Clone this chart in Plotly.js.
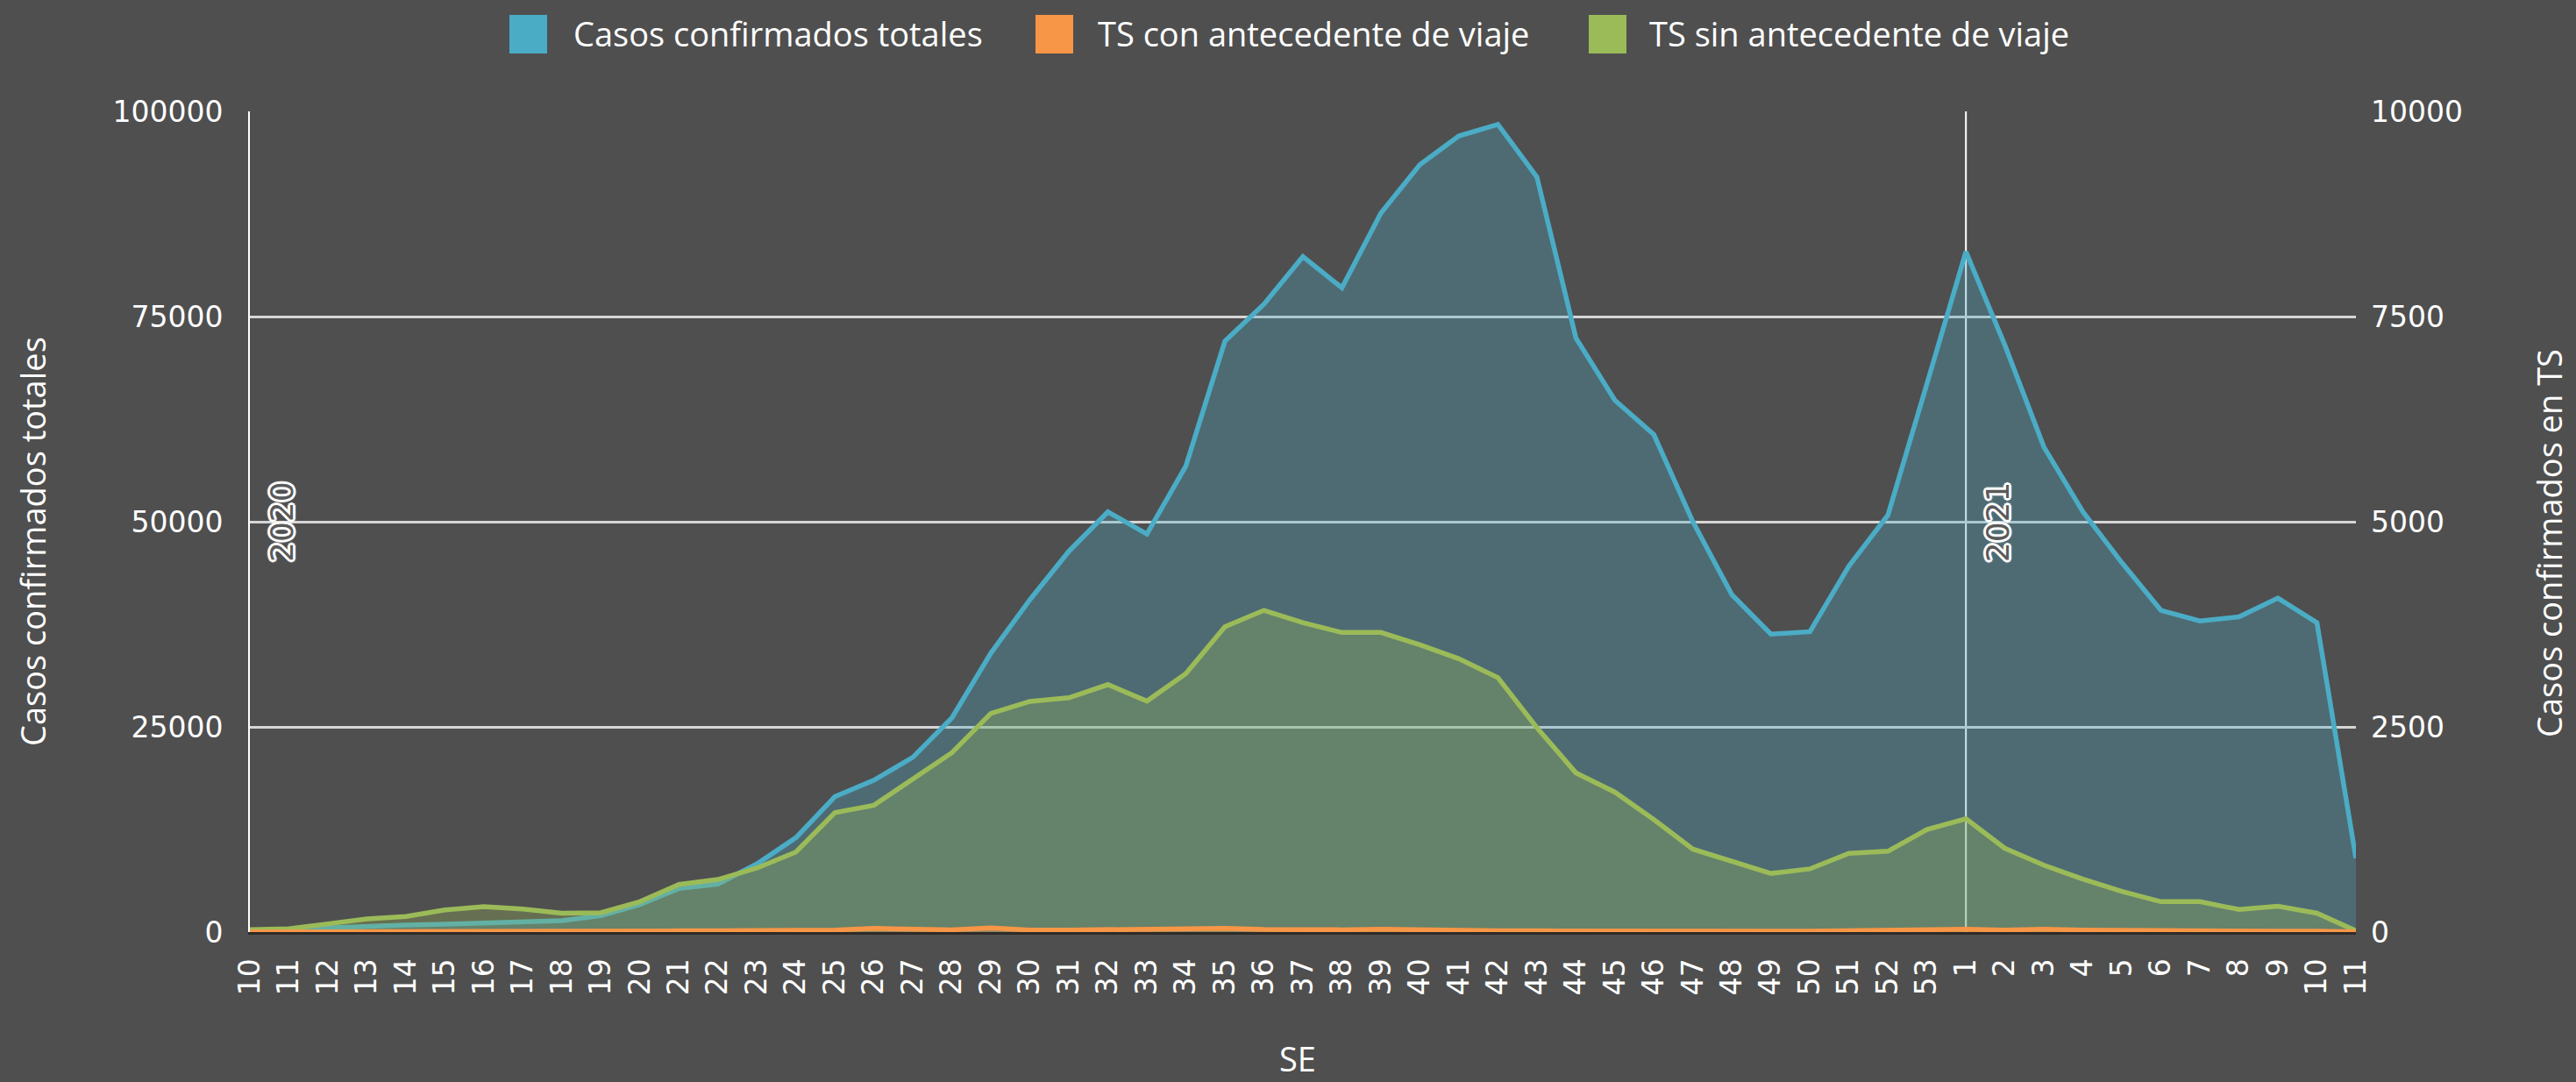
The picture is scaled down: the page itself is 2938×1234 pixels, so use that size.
<!DOCTYPE html>
<html>
<head>
<meta charset="utf-8">
<script src="https://cdn.plot.ly/plotly-3.0.1.min.js"></script>
<style>
  html, body { margin: 0; padding: 0; background: #4f4f4f; }
  #chart { width: 2938px; height: 1234px; }
</style>
</head>
<body>
<div id="chart"></div>
<script>
// ---- data ----
const weeks = ['10','11','12','13','14','15','16','17','18','19','20','21','22','23','24','25','26','27','28','29',
  '30','31','32','33','34','35','36','37','38','39','40','41','42','43','44','45','46','47','48','49','50','51','52','53',
  '1','2','3','4','5','6','7','8','9','10','11'];

const seriesNames = ['Casos confirmados totales', 'TS con antecedente de viaje', 'TS sin antecedente de viaje'];

// left axis
const totalCases = [100, 200, 500, 700, 850, 950, 1100, 1300, 1400, 2000, 3350, 5300, 5850, 8300, 11500, 16500, 18500, 21300, 26100, 34000,
  40500, 46400, 51200, 48500, 56800, 72000, 76500, 82300, 78500, 87600, 93500, 97000, 98400, 92000, 72400, 64800, 60600, 50000, 41100, 36300,
  36600, 44600, 50800, 66800, 82900, 71500, 59100, 51200, 45000, 39200, 37900, 38400, 40700, 37700, 9000];

// right axis
const tsWithTravel = [0, 2, 8, 12, 12, 10, 10, 10, 10, 10, 12, 15, 15, 18, 22, 25, 45, 30, 28, 50,
  25, 25, 28, 30, 38, 45, 32, 25, 28, 35, 25, 20, 15, 15, 12, 12, 12, 10, 10, 10,
  10, 15, 15, 30, 35, 25, 35, 25, 20, 15, 15, 12, 10, 10, 3];

const tsWithoutTravel = [30, 40, 100, 160, 190, 270, 310, 280, 230, 235, 370, 580, 640, 780, 975, 1455, 1545, 1865, 2185, 2665,
  2810, 2855, 3015, 2815, 3150, 3720, 3920, 3770, 3650, 3650, 3500, 3330, 3100, 2490, 1940, 1705, 1370, 1010, 870, 715,
  770, 960, 985, 1250, 1380, 1020, 815, 645, 495, 370, 370, 275, 315, 230, 15];

const leftTicks = [0, 25000, 50000, 75000, 100000];
const rightTicks = [0, 2500, 5000, 7500, 10000];
const yearLabels = ['2020', '2021'];
const xTitle = 'SE';
const yLeftTitle = 'Casos confirmados totales';
const yRightTitle = 'Casos confirmados en TS';

// ---- build ----
const xIdx = weeks.map((_, i) => i);
const yearStartIdx = [0, weeks.indexOf('1')];

const colors = ['#4bacc6', '#f79646', '#9bbb59'];
const fills = ['rgba(75,172,198,0.30)', 'rgba(247,150,70,0.30)', 'rgba(155,187,89,0.30)'];

const traceTotal = {
  type: 'scatter', mode: 'lines', name: seriesNames[0],
  x: xIdx, y: totalCases, yaxis: 'y',
  fill: 'tozeroy', fillcolor: fills[0],
  line: { color: colors[0], width: 5.5 }, showlegend: false
};
const traceWithout = {
  type: 'scatter', mode: 'lines', name: seriesNames[2],
  x: xIdx, y: tsWithoutTravel, yaxis: 'y2',
  fill: 'tozeroy', fillcolor: fills[2],
  line: { color: colors[2], width: 5.5 }, showlegend: false
};
const traceWith = {
  type: 'scatter', mode: 'lines', name: seriesNames[1],
  x: xIdx, y: tsWithTravel, yaxis: 'y2',
  fill: 'tozeroy', fillcolor: fills[1],
  line: { color: colors[1], width: 5.5 }, showlegend: false
};

const W = 2938, H = 1234;
const M = { l: 285, r: 251, t: 127, b: 171 };
const pw = W - M.l - M.r, ph = H - M.t - M.b;
const px = v => (v - M.l) / pw;          // pixel -> paper x
const py = v => (H - M.b - v) / ph;      // pixel -> paper y

const textFont = { family: 'Open Sans, sans-serif', size: 38, color: '#ffffff' };
const tickFont = { family: 'DejaVu Sans, sans-serif', size: 33, color: '#ffffff' };

// custom legend
const legendSwatchX = [581, 1181, 1812];
const legendTextX = [652, 1250, 1879];
const shapes = [];
const annotations = [];
seriesNames.forEach((name, i) => {
  shapes.push({
    type: 'rect', xref: 'paper', yref: 'paper',
    x0: px(legendSwatchX[i]), x1: px(legendSwatchX[i] + 43),
    y0: py(61), y1: py(17),
    fillcolor: colors[i], line: { width: 0 }
  });
  annotations.push({
    xref: 'paper', yref: 'paper', x: px(legendTextX[i]), y: py(38),
    xanchor: 'left', yanchor: 'middle', showarrow: false,
    text: name, font: textFont
  });
});

// year markers
yearStartIdx.forEach((idx, k) => {
  if (k > 0) {
    shapes.push({
      type: 'line', xref: 'x', yref: 'paper', x0: idx, x1: idx, y0: 0, y1: 1,
      line: { color: '#ffffff', width: 2 }, layer: 'below'
    });
  }
  annotations.push({
    xref: 'x', yref: 'y', x: idx, y: 50000, xshift: 36,
    textangle: -90, showarrow: false, xanchor: 'center', yanchor: 'middle',
    text: yearLabels[k],
    font: {
      family: 'DejaVu Sans, sans-serif', size: 36, color: '#5a5a5a',
      shadow: '2px 0 0 #fff, -2px 0 0 #fff, 0 2px 0 #fff, 0 -2px 0 #fff, 2px 2px 0 #fff, -2px -2px 0 #fff, 2px -2px 0 #fff, -2px 2px 0 #fff, 3px 0 1px #fff, -3px 0 1px #fff, 0 3px 1px #fff, 0 -3px 1px #fff'
    }
  });
});

// axis titles as annotations for exact placement
annotations.push({
  xref: 'paper', yref: 'paper', x: px(37), y: py(618), textangle: -90,
  showarrow: false, xanchor: 'center', yanchor: 'middle', text: yLeftTitle, font: textFont
});
annotations.push({
  xref: 'paper', yref: 'paper', x: px(2907), y: py(620), textangle: -90,
  showarrow: false, xanchor: 'center', yanchor: 'middle', text: yRightTitle, font: textFont
});
annotations.push({
  xref: 'paper', yref: 'paper', x: px(1480), y: py(1207),
  showarrow: false, xanchor: 'center', yanchor: 'middle', text: xTitle, font: textFont
});

const layout = {
  width: W, height: H,
  margin: M,
  paper_bgcolor: '#4f4f4f', plot_bgcolor: '#4f4f4f',
  showlegend: false,
  xaxis: {
    range: [0, weeks.length - 1],
    tickmode: 'array', tickvals: xIdx, ticktext: weeks,
    tickangle: -90, tickfont: tickFont,
    showgrid: false, zeroline: false,
    showline: true, linecolor: '#2e2b28', linewidth: 3,
    ticks: '', ticklabelstandoff: 14
  },
  yaxis: {
    range: [0, 100000], tickmode: 'array', tickvals: leftTicks,
    tickformat: 'd', tickfont: tickFont,
    showgrid: true, gridcolor: '#d6d6d6', gridwidth: 3,
    zeroline: false, showline: true, linecolor: '#ffffff', linewidth: 2,
    ticks: '', ticklabelstandoff: 22
  },
  yaxis2: {
    range: [0, 10000], tickmode: 'array', tickvals: rightTicks,
    tickformat: 'd', tickfont: tickFont,
    overlaying: 'y', side: 'right',
    showgrid: false, zeroline: false, showline: false,
    ticks: '', ticklabelstandoff: 16
  },
  shapes: shapes,
  annotations: annotations
};

Plotly.newPlot('chart', [traceTotal, traceWithout, traceWith], layout, { staticPlot: true, displayModeBar: false });
</script>
</body>
</html>
